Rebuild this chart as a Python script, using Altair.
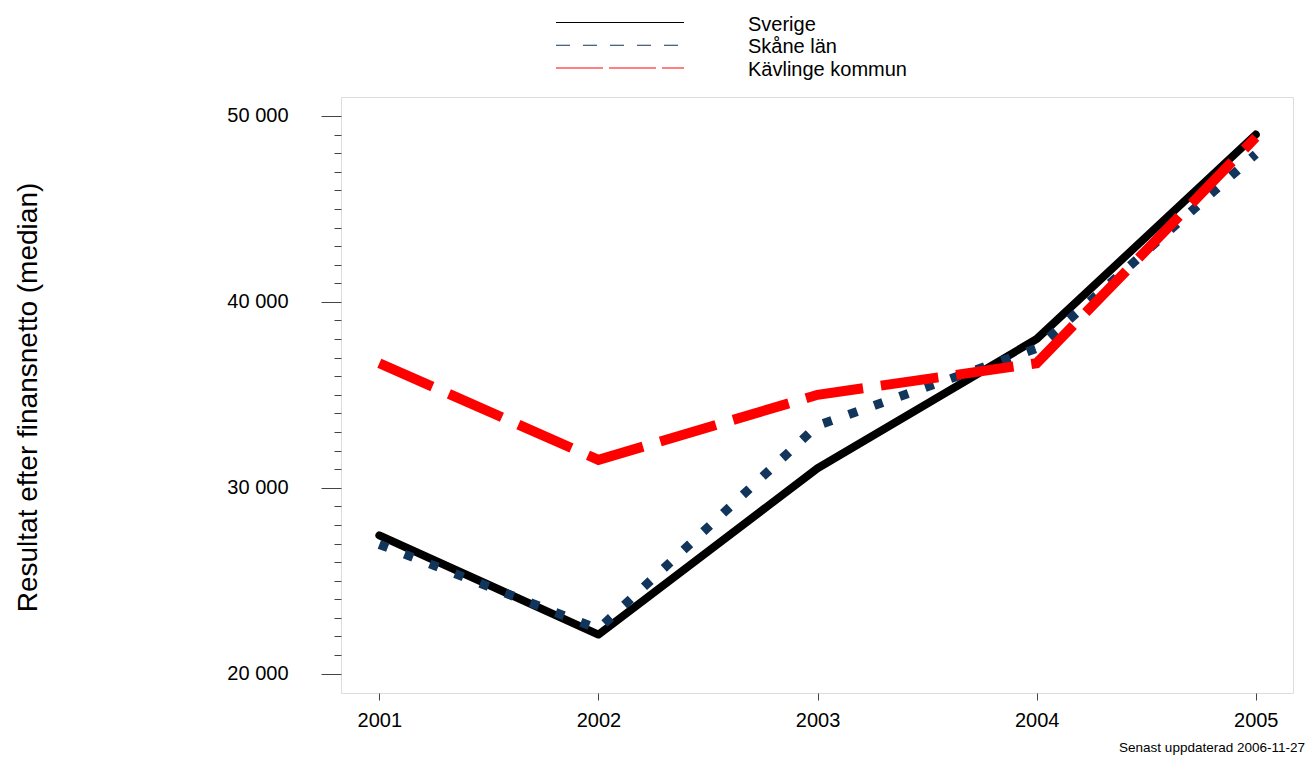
import altair as alt
import pandas as pd

# ---- data ----
years = [2001, 2002, 2003, 2004, 2005]
series = ["Sverige", "Skåne län", "Kävlinge kommun"]
sverige = [27440, 22100, 31050, 38000, 49000]
skane = [26950, 22400, 33350, 37500, 47950]
kavlinge = [36700, 31500, 35000, 36700, 48850]
y_major = [20000, 30000, 40000, 50000]
y_minor = [v for v in range(21000, 50000, 1000) if v % 10000 != 0]
y_title = "Resultat efter finansnetto (median)"
footnote = "Senast uppdaterad 2006-11-27"

rows = []
for name, vals in zip(series, [sverige, skane, kavlinge]):
    for yr, v in zip(years, vals):
        rows.append({"series": name, "year": yr, "value": v})
df = pd.DataFrame(rows)
legend_df = pd.DataFrame({"series": series})

FONT = "Liberation Sans"
W, H = 952, 596

xscale = alt.Scale(domain=[2000.825, 2005.17], nice=False, zero=False)
yscale = alt.Scale(domain=[18957, 51022], nice=False, zero=False)

x_axis = alt.Axis(values=years, format="d", title=None, tickSize=7, labelPadding=10,
                  labelFontSize=20, labelFont=FONT, labelColor="black", tickColor="#444",
                  domain=False, grid=False, labelFlush=False)

y_major_axis = alt.Axis(values=y_major, orient="left",
                        labelExpr="replace(format(datum.value, ','), ',', ' ')",
                        tickSize=20, labelPadding=33, labelFontSize=20, labelFont=FONT,
                        labelColor="black", tickColor="#444", domain=False, grid=False,
                        title=y_title, titleFontSize=28, titleFont=FONT, titleFontWeight="normal",
                        titleColor="black", titleX=-313, titleY=300, titleAngle=270,
                        titleAlign="center", titleBaseline="middle")
y_minor_axis = alt.Axis(values=y_minor, orient="left", labels=False, tickSize=7,
                        tickColor="#444", domain=False, grid=False, title=None)

styles = {
    "Sverige": dict(color="#000000", strokeWidth=8, strokeCap="round", strokeJoin="round"),
    "Skåne län": dict(color="#12355b", strokeWidth=9, strokeDash=[9, 18], strokeCap="butt"),
    "Kävlinge kommun": dict(color="#ff0000", strokeWidth=10, strokeDash=[58, 18],
                            strokeCap="butt", strokeJoin="miter"),
}
legend_styles = {
    "Sverige": dict(color="#000000"),
    "Skåne län": dict(color="#12355b", strokeDash=[14, 13]),
    "Kävlinge kommun": dict(color="#ff0000", strokeDash=[47, 6]),
}
axes = {"Sverige": y_major_axis, "Skåne län": y_minor_axis, "Kävlinge kommun": None}

layers = []
for name in series:
    layers.append(
        alt.Chart(df).transform_filter(alt.datum.series == name)
        .mark_line(**styles[name])
        .encode(x=alt.X("year:Q", scale=xscale, axis=x_axis),
                y=alt.Y("value:Q", scale=yscale, axis=axes[name]),
                order="year:Q")
    )

leg_y = alt.Y("series:N", scale=alt.Scale(type="point", domain=series, range=[-74.5, -29], padding=0),
              axis=None)
for name in series:
    layers.append(
        alt.Chart(legend_df).transform_filter(alt.datum.series == name)
        .mark_rule(strokeWidth=1, **legend_styles[name])
        .encode(y=leg_y, x=alt.value(215), x2=alt.value(343))
    )
layers.append(
    alt.Chart(legend_df).mark_text(align="left", baseline="middle", dy=2, fontSize=20,
                                   font=FONT, color="black")
    .encode(y=leg_y, x=alt.value(407), text="series:N")
)
layers.append(
    alt.Chart(pd.DataFrame({"t": [footnote]}))
    .mark_text(align="right", baseline="alphabetic", fontSize=13.5, font=FONT, color="black")
    .encode(text="t:N", x=alt.value(964), y=alt.value(655))
)

chart = (
    alt.layer(*layers)
    .resolve_scale(y="independent")
    .resolve_axis(y="independent")
    .properties(width=W, height=H, autosize=alt.AutoSizeParams(type="none"),
                padding={"left": 333, "top": 89, "right": 14, "bottom": 65})
    .configure_view(stroke="#777777", fill="#f9f9f9", strokeWidth=1)
    .configure(background="white")
)

chart.save("out.html", embed_options={"renderer": "svg", "actions": False})
